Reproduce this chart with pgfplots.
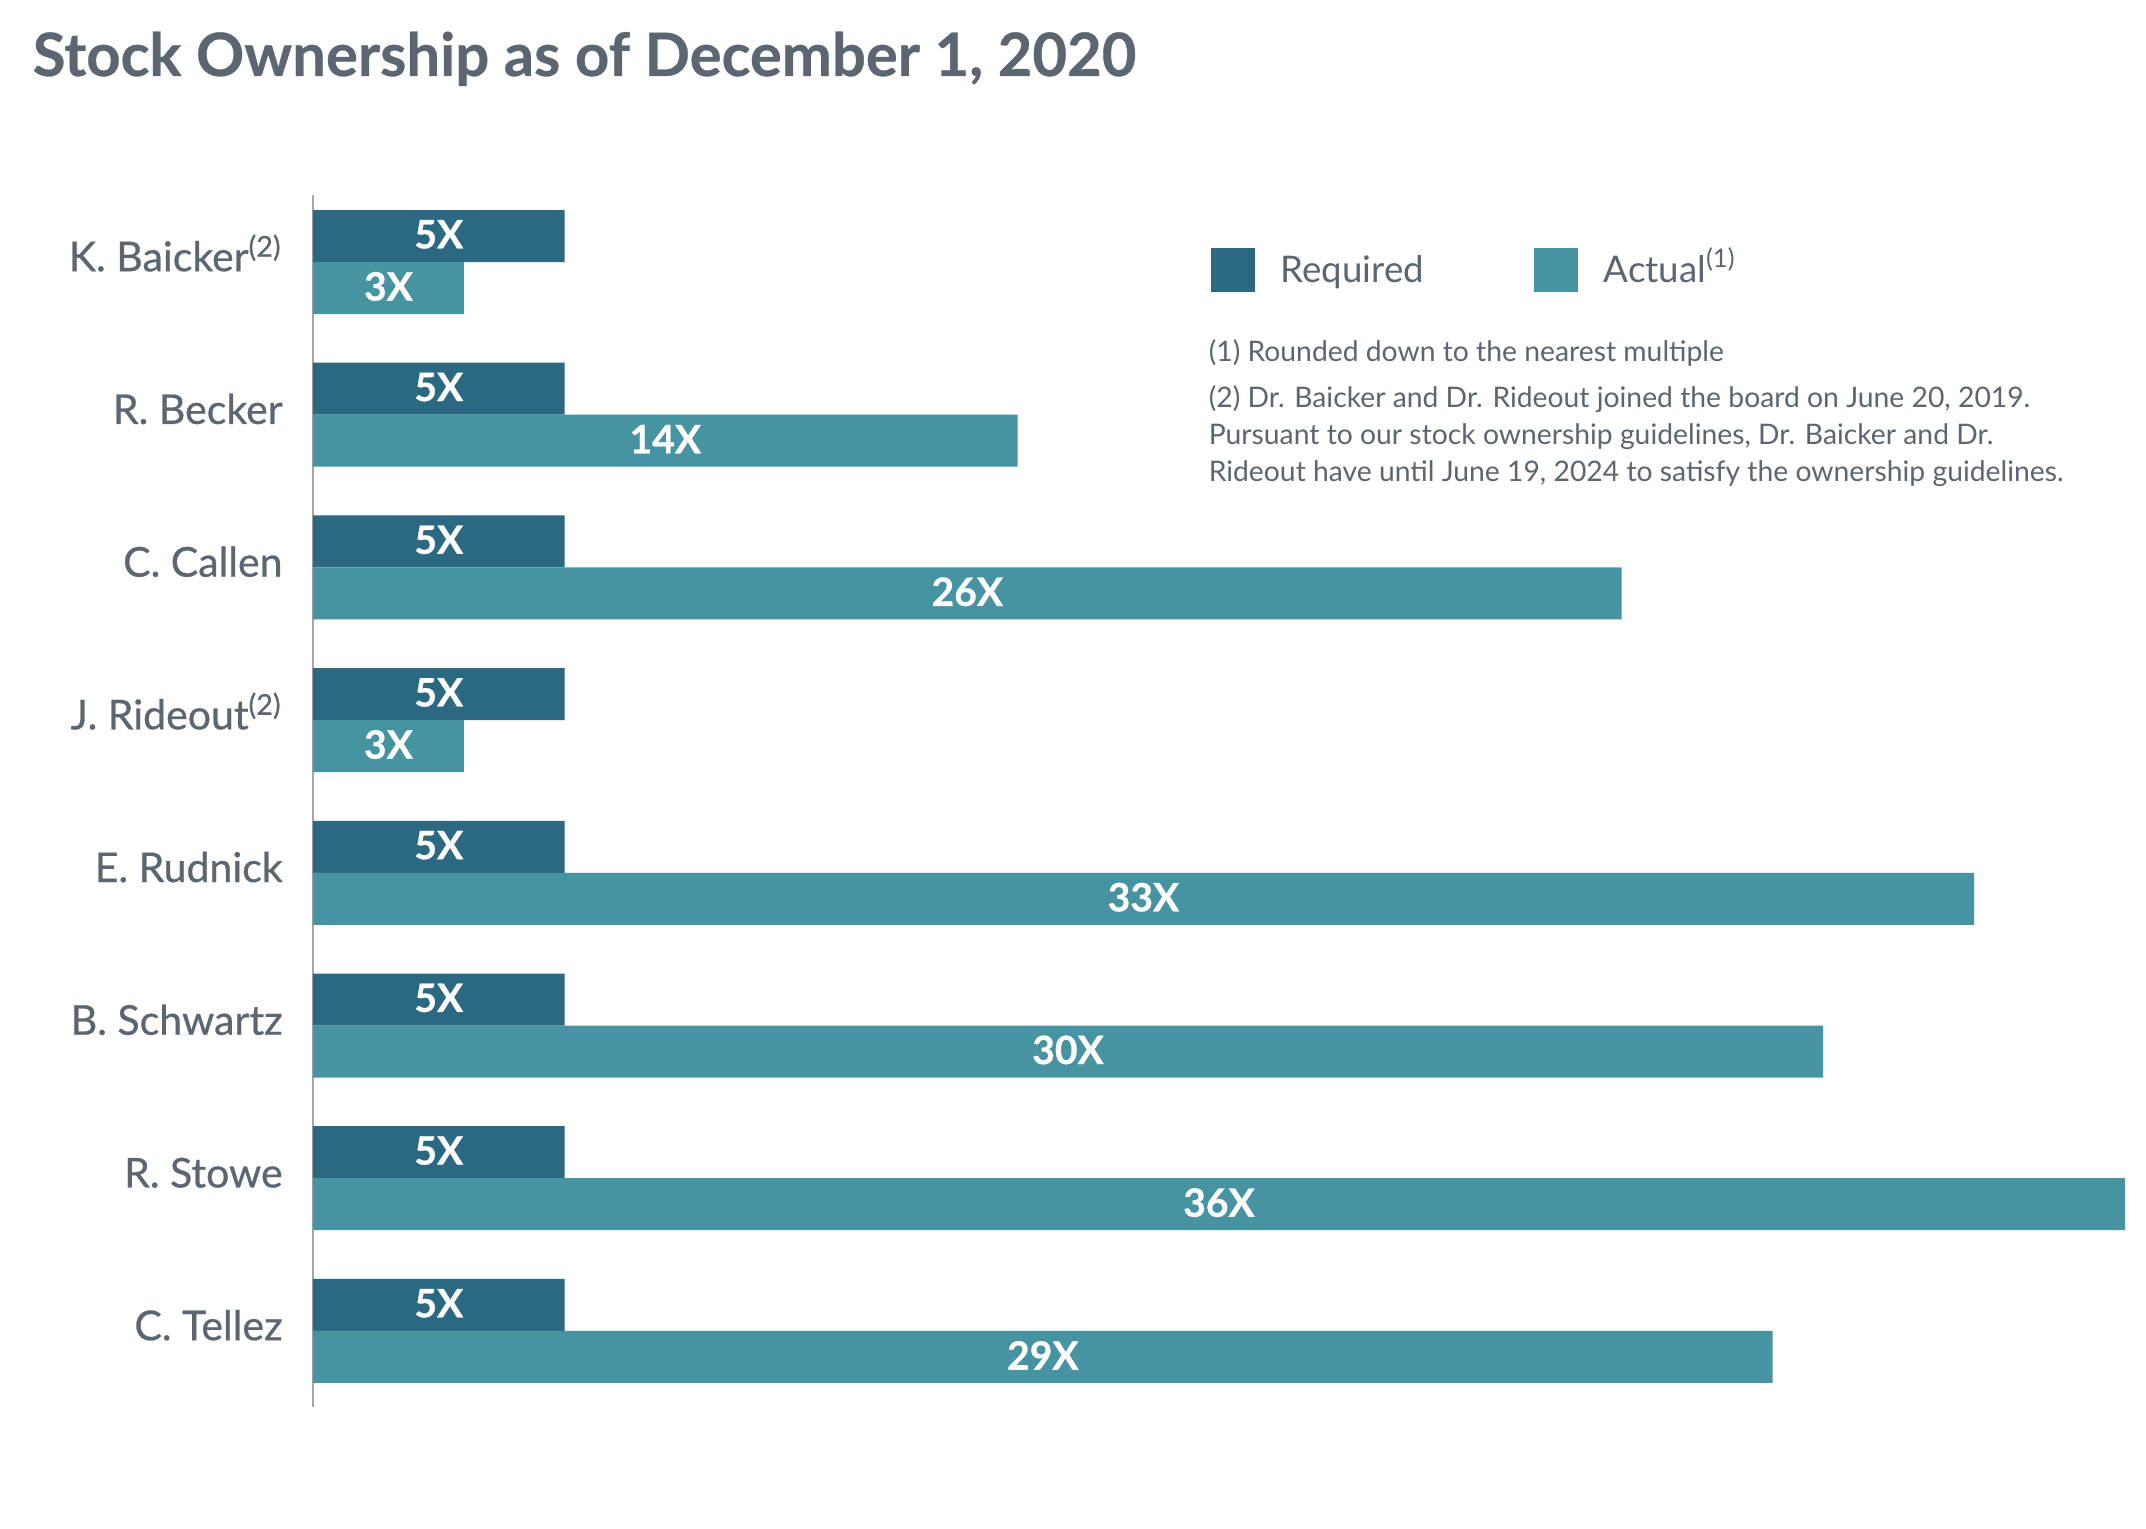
\documentclass[border=0pt]{standalone}
\usepackage{pgfplots}
\pgfplotsset{compat=1.18}
\usepackage{pgfplotstable}
\usepackage{fontspec}
\setmainfont{Lato}
\newfontfamily\labfont{Lato}[FakeBold=0.6]
\newfontfamily\valfont{Lato}[FakeBold=0.7]
\newfontfamily\titlefont{Lato}[FakeBold=0.5]

\definecolor{reqcol}{HTML}{2A6981}
\definecolor{actcol}{HTML}{4693A1}
\definecolor{txtgray}{HTML}{5B6670}

% idx: 7 = top row
\pgfplotstableread{
idx req act
7 5 3
6 5 14
5 5 26
4 5 3
3 5 33
2 5 30
1 5 36
0 5 29
}\owndata

\pgfplotsset{
    squareleg/.style={legend image code/.code={
        \path[draw=none, fill=none] (0bp,-5.5bp) rectangle (17.5bp,5.5bp);
        \fill[##1] (0bp,-5.5bp) rectangle (11bp,5.5bp);}},
    vallabel/.style={only marks, mark=none, forget plot,
        point meta=explicit symbolic,
        nodes near coords={\pgfplotspointmeta X},
        every node near coord/.style={anchor=center, inner sep=0pt, text=white,
            yshift=0.4bp, font=\valfont\bfseries\fontsize{9.8}{10}\selectfont}},
}

\begin{document}
\begin{tikzpicture}
\fill[white] (-78.25bp,-30.5bp) rectangle (458.25bp,351.75bp);
\path[use as bounding box] (-78.25bp,-30.5bp) rectangle (458.25bp,351.75bp);
\begin{axis}[
    scale only axis,
    width=453bp, height=303bp,
    xmin=0, xmax=36,
    ymin=-0.498, ymax=7.439,
    axis x line=none,
    axis y line=left,
    y axis line style={-, draw=gray!70, line width=0.5bp},
    ytick={0,...,7},
    yticklabels={C. Tellez, R. Stowe, B. Schwartz, E. Rudnick,
        J. Rideout\textsuperscript{(2)}, C. Callen, R. Becker,
        K. Baicker\textsuperscript{(2)}},
    major tick length=0pt,
    yticklabel style={anchor=east, inner sep=0pt, xshift=-7.4bp, yshift=1.2bp,
        text height=7bp, text depth=0pt,
        font=\labfont\fontsize{10.3}{11}\selectfont, text=txtgray},
    bar width=13bp,
    legend columns=2,
    legend cell align=left,
    legend style={at={(0.4950,0.9571)}, anchor=north west, draw=none, fill=none,
        inner sep=0pt, column sep=0pt, row sep=0pt,
        nodes={inner sep=0pt, text height=6.4bp, text depth=0pt},
        font=\fontsize{9.2}{10}\selectfont, text=txtgray},
]
\addplot[xbar, draw=none, fill=reqcol, bar shift=6.5bp, squareleg]
    table[x=req, y=idx] {\owndata};
\addlegendentry{\makebox[63.25bp][l]{Required}}
\addplot[xbar, draw=none, fill=actcol, bar shift=-6.5bp, squareleg]
    table[x=act, y=idx] {\owndata};
\addlegendentry{Actual\textsuperscript{(1)}}

% value labels, centred in each bar (0.1703 = half a bar width in y units)
\addplot[vallabel] table[x expr=\thisrow{req}/2, y expr=\thisrow{idx}+0.1703, meta=req] {\owndata};
\addplot[vallabel] table[x expr=\thisrow{act}/2, y expr=\thisrow{idx}-0.1703, meta=act] {\owndata};
\end{axis}

\node[anchor=base west, inner sep=0pt, text=txtgray,
    font=\titlefont\bfseries\fontsize{15}{16}\selectfont] at (-70.25bp,332.75bp)
    {Stock Ownership as of December 1, 2020};

\begin{scope}[every node/.style={anchor=base west, inner sep=0pt, text=txtgray,
    font=\fontsize{7.1}{8}\selectfont}]
\node at (223.75bp,261.25bp) {(1) Rounded down to the nearest multiple};
\node at (223.75bp,249.75bp) {(2) Dr. Baicker and Dr. Rideout joined the board on June 20, 2019.};
\node at (223.75bp,240.5bp) {Pursuant to our stock ownership guidelines, Dr. Baicker and Dr.};
\node at (223.75bp,231.25bp) {Rideout have until June 19, 2024 to satisfy the ownership guidelines.};
\end{scope}
\end{tikzpicture}
\end{document}
